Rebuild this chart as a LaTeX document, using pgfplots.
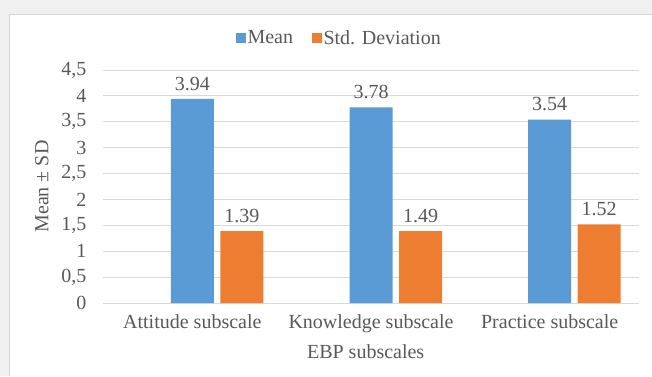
\documentclass[border=0pt]{standalone}
\usepackage{pgfplots}
\pgfplotsset{compat=1.18}
\usepackage{fontspec}
\setmainfont{Liberation Serif}
\definecolor{cblue}{HTML}{5B9BD5}
\definecolor{corange}{HTML}{ED7D31}
\definecolor{ctext}{HTML}{595959}
\definecolor{cgrid}{HTML}{D9D9D9}
\definecolor{cbg}{HTML}{F0F0F0}
\definecolor{cborder}{HTML}{D4D4D4}
\newcommand{\chartfont}{\fontsize{20}{24}\selectfont}
\begin{document}
\begin{tikzpicture}[x=1pt,y=1pt]
\fill[cbg] (0,0) rectangle (652,376);
\useasboundingbox (0,0) rectangle (652,376);
\fill[white] (9,0) rectangle (652,362);
\draw[cborder, line width=1pt] (9,0) -- (9,362) -- (652,362);
\begin{axis}[
  at={(103pt,73pt)}, anchor=south west,
  scale only axis, width=536pt, height=233pt,
  xmin=-0.5, xmax=2.5, ymin=0, ymax=4.5,
  ybar, bar width=43pt,
  xtick={0,1,2},
  xticklabels={Attitude subscale, Knowledge subscale, Practice subscale},
  ytick={0,0.5,1,1.5,2,2.5,3,3.5,4,4.5},
  /pgf/number format/.cd, use comma, 1000 sep={}, assume math mode=true,
  /pgfplots/.cd,
  yticklabel style={anchor=east, xshift=-13pt},
  xticklabel style={anchor=north, yshift=-8pt},
  major tick length=0pt,
  ymajorgrids, grid style={cgrid, line width=1pt},
  axis x line*=bottom, axis y line*=left,
  x axis line style={cgrid, line width=1pt},
  y axis line style={draw=none},
  tick label style={font=\chartfont, text=ctext},
  label style={font=\chartfont, text=ctext},
  xlabel={EBP subscales},
  xlabel style={at={(axis description cs:0.49,-0.165)}, anchor=north},
  ylabel={Mean ± SD},
  ylabel style={at={(axis description cs:-0.114,0.5)}, anchor=center},
  nodes near coords,
  point meta=explicit symbolic,
  nodes near coords style={font=\chartfont, text=ctext, anchor=south, yshift=5pt},
  legend style={draw=none, fill=none, font=\chartfont, text=ctext,
    at={(0.441,1.137)}, anchor=center, legend columns=-1,
    /tikz/every even column/.append style={column sep=17pt}},
  legend image code/.code={\fill[#1] (0pt,-4.5pt) rectangle (9.5pt,5pt);},
]
\addplot[fill=cblue, draw=none, bar shift=0pt] coordinates {(0,3.94) [3.94] (1,3.78) [3.78] (2,3.54) [3.54]};
\addplot[fill=corange, draw=none, bar shift=49.5pt] coordinates {(0,1.39) [1.39] (1,1.39) [1.49] (2,1.52) [1.52]};
\legend{Mean, Std. Deviation}
\end{axis}
\end{tikzpicture}
\end{document}
